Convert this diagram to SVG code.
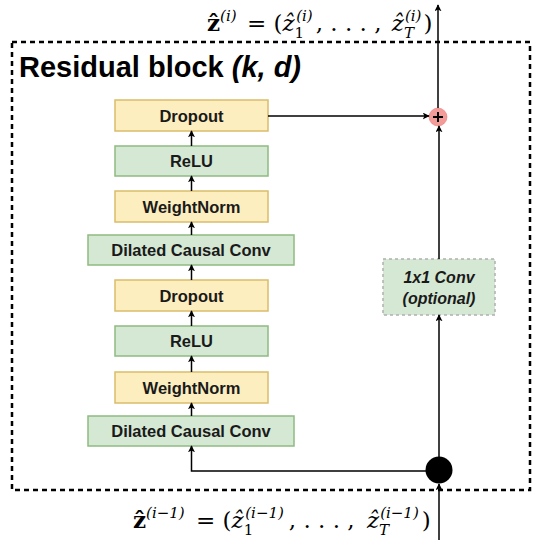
<svg xmlns="http://www.w3.org/2000/svg" width="542" height="540" viewBox="0 0 542 540">
<defs>
<marker id="ah" viewBox="0 0 10 10" refX="9" refY="5" markerWidth="7" markerHeight="7" orient="auto" markerUnits="userSpaceOnUse"><path d="M0,0 L10,5 L0,10 L2.5,5 Z" fill="#000"/></marker>
<style>
.y{fill:#fdeebf;stroke:#d9bd6a;stroke-width:1.5}
.g{fill:#d5e8d4;stroke:#8fbb80;stroke-width:1.5}
.lbl{font-family:"Liberation Sans",Arial,sans-serif;font-weight:bold;font-size:16.5px;fill:#1a1a1a;text-anchor:middle}
.c{stroke:#000;stroke-width:1.5;fill:none}
.m{font-family:"DejaVu Serif","Liberation Serif",serif;font-size:23px;fill:#000}
</style>
</defs>
<rect width="542" height="540" fill="#fff"/>
<g id="block">
<rect x="12" y="42" width="518" height="448" fill="none" stroke="#000" stroke-width="2.5" stroke-dasharray="5,4"/>
<text x="19" y="77" font-family="Liberation Sans,Arial,sans-serif" font-weight="bold" font-size="29" fill="#000">Residual block <tspan font-style="italic">(k, d)</tspan></text>
</g>
<g id="dropout2"><rect class="y" x="115" y="100" width="153" height="31"/><text class="lbl" x="191.5" y="122">Dropout</text></g>
<g id="relu2"><rect class="g" x="115" y="146" width="153" height="30"/><text class="lbl" x="191.5" y="167">ReLU</text></g>
<g id="wn2"><rect class="y" x="115" y="191" width="153" height="31"/><text class="lbl" x="191.5" y="213">WeightNorm</text></g>
<g id="dcc2"><rect class="g" x="88" y="235" width="206" height="30"/><text class="lbl" x="191" y="256">Dilated Causal Conv</text></g>
<g id="dropout1"><rect class="y" x="115" y="280" width="153" height="31"/><text class="lbl" x="191.5" y="302">Dropout</text></g>
<g id="relu1"><rect class="g" x="115" y="326" width="153" height="30"/><text class="lbl" x="191.5" y="347">ReLU</text></g>
<g id="wn1"><rect class="y" x="115" y="372" width="153" height="31"/><text class="lbl" x="191.5" y="394">WeightNorm</text></g>
<g id="dcc1"><rect class="g" x="88" y="416" width="206" height="30"/><text class="lbl" x="191" y="437">Dilated Causal Conv</text></g>
<g id="conv1x1"><rect x="383" y="259" width="112" height="56" fill="#d5e8d4" stroke="#b0b0b0" stroke-width="1.5" stroke-dasharray="3,3"/>
<text x="439" y="283" font-family="Liberation Sans,Arial,sans-serif" font-style="italic" font-weight="bold" font-size="16" fill="#1a1a1a" text-anchor="middle">1x1 Conv</text>
<text x="439" y="304" font-family="Liberation Sans,Arial,sans-serif" font-style="italic" font-weight="bold" font-size="16" fill="#1a1a1a" text-anchor="middle">(optional)</text></g>
<g id="plus"><circle cx="438" cy="117" r="9" fill="#f19c99" stroke="#ea6b66" stroke-width="0.5"/><path d="M433,117 H443 M438,112 V122" stroke="#000" stroke-width="2"/></g>
<g id="split"><circle cx="439" cy="470" r="13.5" fill="#000"/></g>
<g id="connectors">
<path class="c" d="M191.5,146 V131" marker-end="url(#ah)"/>
<path class="c" d="M191.5,191 V176" marker-end="url(#ah)"/>
<path class="c" d="M191.5,235 V222" marker-end="url(#ah)"/>
<path class="c" d="M191.5,280 V265" marker-end="url(#ah)"/>
<path class="c" d="M191.5,326 V311" marker-end="url(#ah)"/>
<path class="c" d="M191.5,372 V356" marker-end="url(#ah)"/>
<path class="c" d="M191.5,416 V403" marker-end="url(#ah)"/>
<path class="c" d="M439,471 H191.5 V446" marker-end="url(#ah)"/>
<path class="c" d="M439,540 V484" marker-end="url(#ah)"/>
<path class="c" d="M439,457 V315" marker-end="url(#ah)"/>
<path class="c" d="M439,259 V126" marker-end="url(#ah)"/>
<path class="c" d="M268,116 H429" marker-end="url(#ah)"/>
<path class="c" d="M438,108 V5" marker-end="url(#ah)"/>
</g>
<g id="formulas">
<text class="m" x="207" y="31"><tspan font-weight="bold">ẑ</tspan><tspan font-size="15" dy="-10" font-style="italic">(i)</tspan><tspan dx="3" dy="10"> = (</tspan><tspan font-style="italic">ẑ</tspan><tspan font-size="15" dy="7">1</tspan><tspan font-size="15" dx="-8" dy="-17" font-style="italic">(i)</tspan><tspan dx="3" dy="10">, . . . , </tspan><tspan dx="3" font-style="italic">ẑ</tspan><tspan font-size="15" dy="7" font-style="italic">T</tspan><tspan font-size="15" dx="-9" dy="-17" font-style="italic">(i)</tspan><tspan dx="2" dy="10">)</tspan></text>
<text class="m" x="133" y="528"><tspan font-weight="bold">ẑ</tspan><tspan font-size="15" dy="-10" font-style="italic">(i−1)</tspan><tspan dx="4" dy="10"> = (</tspan><tspan font-style="italic">ẑ</tspan><tspan font-size="15" dy="7">1</tspan><tspan font-size="15" dx="-8" dy="-17" font-style="italic">(i−1)</tspan><tspan dx="5" dy="10">, . . . , </tspan><tspan dx="5" font-style="italic">ẑ</tspan><tspan font-size="15" dy="7" font-style="italic">T</tspan><tspan font-size="15" dx="-9" dy="-17" font-style="italic">(i−1)</tspan><tspan dx="3" dy="10">)</tspan></text>
</g>
</svg>
